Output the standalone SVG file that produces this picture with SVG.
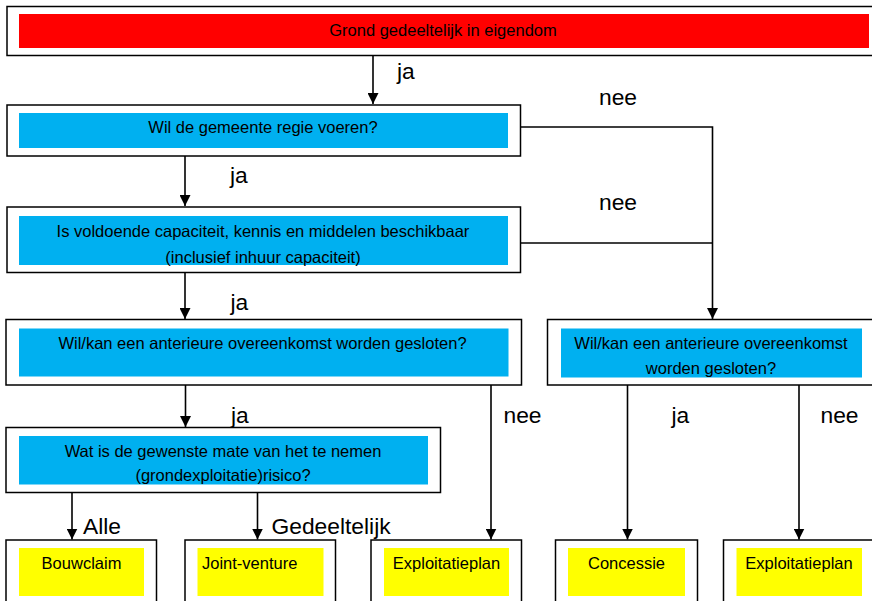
<svg xmlns="http://www.w3.org/2000/svg" width="872" height="601" viewBox="0 0 872 601">
<style>
.box{fill:#fff;stroke:#000;stroke-width:1.5}
.red{fill:#ff0000}
.blue{fill:#00b0f0}
.yel{fill:#ffff00}
.t{font-family:"Liberation Sans",Arial,sans-serif;font-size:16.5px;fill:#000;text-anchor:middle}
.lbl{font-family:"Liberation Sans",Arial,sans-serif;font-size:22.8px;fill:#000}
.c{fill:none;stroke:#000;stroke-width:1.6}
</style>
<defs>
<marker id="ah" viewBox="0 0 10 10" refX="10" refY="5" markerWidth="11" markerHeight="11" markerUnits="userSpaceOnUse" orient="auto">
<path d="M0,0 L10,5 L0,10 Z" fill="#000"/>
</marker>
</defs>
<g id="n1">
<rect class="box" x="7" y="6.5" width="870" height="49"/>
<rect class="red" x="19" y="14" width="850" height="34"/>
<text class="t" x="443" y="36">Grond gedeeltelijk in eigendom</text>
</g>
<g id="n2">
<rect class="box" x="7" y="105" width="513.5" height="51"/>
<rect class="blue" x="19" y="113" width="489" height="35"/>
<text class="t" x="263" y="133">Wil de gemeente regie voeren?</text>
</g>
<g id="n3">
<rect class="box" x="7" y="207" width="513.5" height="65.5"/>
<rect class="blue" x="19" y="216" width="489" height="49"/>
<text class="t" x="263" y="237">Is voldoende capaciteit, kennis en middelen beschikbaar</text>
<text class="t" x="263" y="262.5">(inclusief inhuur capaciteit)</text>
</g>
<g id="n4">
<rect class="box" x="6" y="319.5" width="515.5" height="65.5"/>
<rect class="blue" x="19" y="328.5" width="489.5" height="48"/>
<text class="t" x="262.5" y="349">Wil/kan een anterieure overeenkomst worden gesloten?</text>
</g>
<g id="n5">
<rect class="box" x="6" y="427.5" width="434.5" height="65"/>
<rect class="blue" x="19" y="436" width="409" height="48.5"/>
<text class="t" x="223" y="457">Wat is de gewenste mate van het te nemen</text>
<text class="t" x="223" y="481">(grondexploitatie)risico?</text>
</g>
<g id="n6">
<rect class="box" x="547.5" y="319.5" width="330" height="65.5"/>
<rect class="blue" x="561" y="328.5" width="301" height="49"/>
<text class="t" x="711" y="349">Wil/kan een anterieure overeenkomst</text>
<text class="t" x="711" y="374">worden gesloten?</text>
</g>
<g id="n7">
<rect class="box" x="6" y="540" width="150.5" height="70"/>
<rect class="yel" x="19" y="548" width="125" height="48"/>
<text class="t" x="81.5" y="569">Bouwclaim</text>
</g>
<g id="n8">
<rect class="box" x="185" y="540" width="150.5" height="70"/>
<rect class="yel" x="197.5" y="548" width="126" height="48"/>
<text class="t" x="202" y="569" style="text-anchor:start">Joint-venture</text>
</g>
<g id="n9">
<rect class="box" x="371" y="540" width="150.5" height="70"/>
<rect class="yel" x="384" y="548" width="125" height="48"/>
<text class="t" x="446.5" y="569">Exploitatieplan</text>
</g>
<g id="n10">
<rect class="box" x="555.5" y="540" width="142" height="70"/>
<rect class="yel" x="568" y="548" width="117" height="48"/>
<text class="t" x="626.5" y="569">Concessie</text>
</g>
<g id="n11">
<rect class="box" x="723.5" y="540" width="154" height="70"/>
<rect class="yel" x="736.5" y="548" width="125.5" height="48"/>
<text class="t" x="799" y="569">Exploitatieplan</text>
</g>
<g id="connectors">
<path class="c" d="M373,56 V104" marker-end="url(#ah)"/>
<path class="c" d="M185,156 V206" marker-end="url(#ah)"/>
<path class="c" d="M185,273 V319" marker-end="url(#ah)"/>
<path class="c" d="M185.5,385 V427" marker-end="url(#ah)"/>
<path class="c" d="M520.5,127 H712.5 V319" marker-end="url(#ah)"/>
<path class="c" d="M520.5,243 H712.5"/>
<path class="c" d="M491,385 V539.5" marker-end="url(#ah)"/>
<path class="c" d="M627.5,385 V539.5" marker-end="url(#ah)"/>
<path class="c" d="M799,385 V539.5" marker-end="url(#ah)"/>
<path class="c" d="M72,492.5 V539.5" marker-end="url(#ah)"/>
<path class="c" d="M257.5,492.5 V539.5" marker-end="url(#ah)"/>
<text class="lbl" x="397" y="79">ja</text>
<text class="lbl" x="599" y="105">nee</text>
<text class="lbl" x="230" y="183">ja</text>
<text class="lbl" x="599" y="210">nee</text>
<text class="lbl" x="230.5" y="310">ja</text>
<text class="lbl" x="231" y="422.5">ja</text>
<text class="lbl" x="503.5" y="422.5">nee</text>
<text class="lbl" x="671.5" y="422.5">ja</text>
<text class="lbl" x="820.5" y="422.5">nee</text>
<text class="lbl" x="83" y="533.5">Alle</text>
<text class="lbl" x="271.5" y="533.5">Gedeeltelijk</text>
</g>
</svg>
